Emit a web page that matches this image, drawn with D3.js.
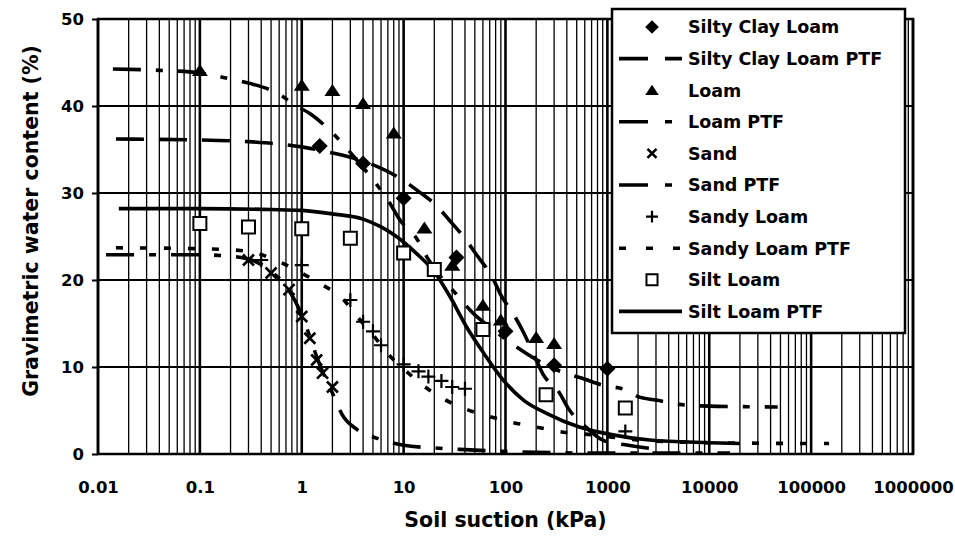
<!DOCTYPE html>
<html>
<head>
<meta charset="utf-8">
<script src="https://cdn.jsdelivr.net/npm/d3@7"></script>
<style>
  body { margin: 0; background: #fff; }
  svg { display: block; font-family: "DejaVu Sans", Arial, sans-serif; font-weight: bold; }
</style>
</head>
<body>
<svg id="chart" width="955" height="542"></svg>
<script>
// Measured data (kPa, %)
var siltyClayLoamX = [1.5, 4, 10, 33, 100, 300, 1000];
var siltyClayLoamY = [35.4, 33.4, 29.4, 22.6, 14.1, 10.2, 9.8];
var loamX = [0.1, 1, 2, 4, 8, 16, 30, 60, 90, 200, 300];
var loamY = [44.1, 42.4, 41.8, 40.3, 36.9, 26, 21.7, 17.1, 15.4, 13.4, 12.7];
var sandX = [0.3, 0.5, 0.75, 1, 1.2, 1.4, 1.6, 2];
var sandY = [22.3, 20.8, 18.9, 15.8, 13.3, 10.8, 9.3, 7.7];
var sandyLoamX = [0.4, 1, 3, 4, 5, 6, 10, 14, 17.5, 23.5, 30, 40, 1500];
var sandyLoamY = [22.3, 21.7, 17.7, 15.2, 14.1, 12.5, 10.3, 9.5, 8.9, 8.4, 7.7, 7.5, 2.6];
var siltLoamX = [0.1, 0.3, 1, 3, 10, 20, 60, 250, 1500];
var siltLoamY = [26.5, 26.1, 25.9, 24.8, 23.1, 21.2, 14.3, 6.8, 5.3];

// PTF curves
var siltyClayLoamPtfX = [0.015, 0.1, 0.3, 1, 2, 3.7, 5.6, 9.8, 13.6, 21.6, 28, 41, 52, 75, 88, 125, 150, 195, 230, 340, 410, 630, 900, 1600, 3500];
var siltyClayLoamPtfY = [36.2, 36.1, 35.9, 35.3, 34.6, 33.8, 33, 31.5, 30.3, 28.4, 26.9, 24.6, 22.9, 20.2, 18.5, 15.7, 14, 11.1, 9.3, 7, 5.3, 3, 1.6, 1.0, 0.5];
var loamPtfX = [0.014, 0.04, 0.1, 0.2, 0.31, 0.57, 0.86, 1.25, 2, 3.7, 5.5, 7, 9.2, 13.7, 17, 35, 47, 70, 115, 300, 600, 900, 1500, 2000, 3000, 5000, 10000, 20000, 47000];
var loamPtfY = [44.25, 44.1, 43.8, 43.1, 42.6, 41.5, 40.1, 39, 36.9, 33.4, 30.9, 29.2, 26.9, 24.6, 22.6, 18, 16.3, 14.6, 12.7, 9.8, 8.6, 7.9, 7.4, 6.6, 6.2, 5.7, 5.5, 5.45, 5.4];
var sandPtfX = [0.012, 0.05, 0.1, 0.17, 0.3, 0.5, 0.75, 1, 1.2, 1.4, 1.6, 2, 2.5, 3.5, 5.5, 10, 20, 40, 100, 300, 1000, 3000, 16000];
var sandPtfY = [22.9, 22.9, 22.9, 22.8, 22.4, 21.0, 18.8, 16.0, 13.5, 11.2, 9.5, 7.0, 4.5, 2.8, 1.8, 1.0, 0.7, 0.5, 0.3, 0.15, 0.1, 0.1, 0.1];
var sandyLoamPtfX = [0.015, 0.1, 0.3, 0.5, 1, 1.5, 2.5, 3.5, 5, 7, 10, 15, 25, 40, 70, 120, 200, 370, 720, 2000, 10000, 150000];
var sandyLoamPtfY = [23.7, 23.6, 23.3, 22.5, 20.8, 19.6, 17.9, 15.8, 13.7, 11.5, 9.8, 8.0, 6.3, 5.2, 4.3, 3.6, 3.1, 2.5, 2.2, 1.6, 1.3, 1.2];
var siltLoamPtfX = [0.016, 0.1, 0.5, 1, 2, 4, 6, 8.5, 13.5, 19.5, 28.5, 41.5, 61, 95, 150, 250, 530, 1130, 2600, 10000, 20000];
var siltLoamPtfY = [28.2, 28.2, 28.1, 28.0, 27.6, 27.0, 26.1, 25.0, 23.0, 21.1, 18.1, 14.6, 11.6, 8.5, 6.2, 4.7, 3.1, 2.2, 1.6, 1.3, 1.2];

var xTickValues = [0.01, 0.1, 1, 10, 100, 1000, 10000, 100000, 1000000];
var xTickLabels = ["0.01", "0.1", "1", "10", "100", "1000", "10000", "100000", "1000000"];
var yTickValues = [0, 10, 20, 30, 40, 50];

function zip(xs, ys) {
  return xs.map(function (v, i) { return { x: v, y: ys[i] }; });
}

// Marker shapes
function markerPath(kind, s) {
  if (kind === "diamond") return "M0," + -s + "L" + s + ",0L0," + s + "L" + -s + ",0Z";
  if (kind === "triangle") return "M0," + (-s * 0.8) + "L" + s + "," + (s * 0.7) + "L" + -s + "," + (s * 0.7) + "Z";
  if (kind === "square") return "M" + -s + "," + -s + "H" + s + "V" + s + "H" + -s + "Z";
  if (kind === "x") return "M" + -s + "," + -s + "L" + s + "," + s + "M" + -s + "," + s + "L" + s + "," + -s;
  if (kind === "plus") return "M" + -s + ",0H" + s + "M0," + -s + "V" + s;
}
var markerStyle = {
  diamond: { size: 8, fill: "#000", stroke: "none", sw: 0 },
  triangle: { size: 8, fill: "#000", stroke: "none", sw: 0 },
  square: { size: 6.5, fill: "#fff", stroke: "#000", sw: 2 },
  x: { size: 5.5, fill: "none", stroke: "#000", sw: 2.6 },
  plus: { size: 7, fill: "none", stroke: "#000", sw: 2.2 },
};

var series = [
  { name: "Silty Clay Loam", type: "marker", kind: "diamond", data: zip(siltyClayLoamX, siltyClayLoamY) },
  { name: "Silty Clay Loam PTF", type: "line", dash: "28,15", legendDash: "29,17", data: zip(siltyClayLoamPtfX, siltyClayLoamPtfY) },
  { name: "Loam", type: "marker", kind: "triangle", data: zip(loamX, loamY) },
  { name: "Loam PTF", type: "line", dash: "28,15,7,15", legendDash: "29,17,7,20", data: zip(loamPtfX, loamPtfY) },
  { name: "Sand", type: "marker", kind: "x", data: zip(sandX, sandY) },
  { name: "Sand PTF", type: "line", dash: "28,15,7,15", legendDash: "29,17,7,20", data: zip(sandPtfX, sandPtfY) },
  { name: "Sandy Loam", type: "marker", kind: "plus", data: zip(sandyLoamX, sandyLoamY) },
  { name: "Sandy Loam PTF", type: "line", dash: "7,17", legendDash: "7,20", data: zip(sandyLoamPtfX, sandyLoamPtfY) },
  { name: "Silt Loam", type: "marker", kind: "square", data: zip(siltLoamX, siltLoamY) },
  { name: "Silt Loam PTF", type: "line", dash: null, legendDash: null, data: zip(siltLoamPtfX, siltLoamPtfY) },
];

var svg = d3.select("#chart");
var margin = { left: 98, right: 42, top: 19, bottom: 88 };
var width = 955, height = 542;

var x = d3.scaleLog().domain([0.01, 1000000]).range([margin.left, width - margin.right]);
var y = d3.scaleLinear().domain([0, 50]).range([height - margin.bottom, margin.top]);

// Grid
var grid = svg.append("g");
grid.selectAll("line.v")
  .data(x.ticks())
  .enter()
  .append("line")
  .attr("x1", (d) => x(d))
  .attr("x2", (d) => x(d))
  .attr("y1", y(0))
  .attr("y2", y(50))
  .attr("stroke", "#000")
  .attr("stroke-width", (d) => (Math.abs(Math.log10(d) - Math.round(Math.log10(d))) < 1e-9 ? 2.6 : 1.3));
grid.selectAll("line.h")
  .data(yTickValues)
  .enter()
  .append("line")
  .attr("x1", x.range()[0])
  .attr("x2", x.range()[1])
  .attr("y1", (d) => y(d))
  .attr("y2", (d) => y(d))
  .attr("stroke", "#000")
  .attr("stroke-width", 2.2);

// Frame
svg.append("rect")
  .attr("x", x.range()[0])
  .attr("y", y(50))
  .attr("width", x.range()[1] - x.range()[0])
  .attr("height", y(0) - y(50))
  .attr("fill", "none")
  .attr("stroke", "#000")
  .attr("stroke-width", 2.5);

// Axes
var xAxis = svg.append("g")
  .attr("transform", "translate(0," + y(0) + ")")
  .call(d3.axisBottom(x).tickValues(xTickValues).tickSize(0).tickPadding(27)
    .tickFormat((d, i) => xTickLabels[i]));
xAxis.select(".domain").remove();
xAxis.selectAll("text").attr("font-size", 16.5).attr("font-weight", "bold").attr("font-family", "DejaVu Sans, Arial, sans-serif").attr("fill", "#000");

var yAxis = svg.append("g")
  .attr("transform", "translate(" + x.range()[0] + ",0)")
  .call(d3.axisLeft(y).tickValues(yTickValues).tickSize(6).tickPadding(8));
yAxis.select(".domain").remove();
yAxis.selectAll("line").attr("stroke-width", 2);
yAxis.selectAll("text").attr("font-size", 16.5).attr("font-weight", "bold").attr("font-family", "DejaVu Sans, Arial, sans-serif").attr("fill", "#000");

// Titles
svg.append("text")
  .attr("x", (x.range()[0] + x.range()[1]) / 2)
  .attr("y", 527)
  .attr("text-anchor", "middle")
  .attr("font-size", 20.5)
  .text("Soil suction (kPa)");
svg.append("text")
  .attr("transform", "translate(38,221) rotate(-90)")
  .attr("text-anchor", "middle")
  .attr("font-size", 20.5)
  .text("Gravimetric water content (%)");

// Curves
var line = d3.line()
  .curve(d3.curveMonotoneX)
  .x((d) => x(d.x))
  .y((d) => y(d.y));

series.filter((s) => s.type === "line").forEach(function (s) {
  svg.append("path")
    .attr("d", line(s.data))
    .attr("fill", "none")
    .attr("stroke", "#000")
    .attr("stroke-width", 3.6)
    .attr("stroke-dasharray", s.dash);
});

// Markers
series.filter((s) => s.type === "marker").forEach(function (s) {
  var st = markerStyle[s.kind];
  svg.append("g")
    .selectAll("path")
    .data(s.data)
    .enter()
    .append("path")
    .attr("transform", (d) => "translate(" + x(d.x) + "," + y(d.y) + ")")
    .attr("d", markerPath(s.kind, st.size))
    .attr("fill", st.fill)
    .attr("stroke", st.stroke)
    .attr("stroke-width", st.sw);
});

// Legend
var legend = svg.append("g").attr("transform", "translate(612,9)");
legend.append("rect")
  .attr("width", 293)
  .attr("height", 324)
  .attr("fill", "#fff")
  .attr("stroke", "#000")
  .attr("stroke-width", 2.5);

var rows = legend.selectAll("g.row")
  .data(series)
  .enter()
  .append("g")
  .attr("transform", (d, i) => "translate(0," + (18 + i * 31.6) + ")");

rows.each(function (s) {
  var g = d3.select(this);
  if (s.type === "line") {
    g.append("line")
      .attr("x1", 7)
      .attr("x2", 70)
      .attr("stroke", "#000")
      .attr("stroke-width", 3.6)
      .attr("stroke-dasharray", s.legendDash);
  } else {
    var st = markerStyle[s.kind];
    g.append("path")
      .attr("transform", "translate(40,0)")
      .attr("d", markerPath(s.kind, s.kind === "x" ? 4.5 : st.size * 0.85))
      .attr("fill", st.fill)
      .attr("stroke", st.stroke)
      .attr("stroke-width", st.sw);
  }
  g.append("text")
    .attr("x", 76)
    .attr("dy", "0.36em")
    .attr("font-size", 17.5)
    .text(s.name);
});
</script>
</body>
</html>
